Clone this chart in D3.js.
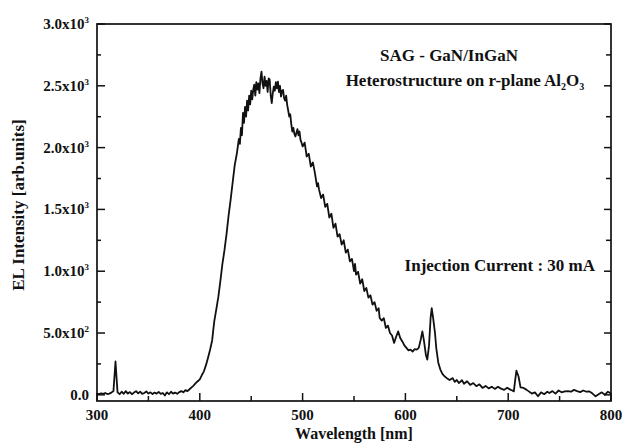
<!DOCTYPE html>
<html>
<head>
<meta charset="utf-8">
<script src="https://cdn.jsdelivr.net/npm/d3@7/dist/d3.min.js"></script>
<style>
  body { margin: 0; background: #fff; }
  svg text { font-family: "Liberation Serif", "Times New Roman", serif; font-weight: bold; fill: #111; }
</style>
</head>
<body>
<div id="chart"></div>
<script>
// spectrum: [wavelength nm, EL intensity]
const wavelength = [300,302,304,306,308,310,312,314,316,317,318,319,320,322,324,326,328,330,332,334,336,338,340,342,344,346,348,350,352,354,356,358,360,362,364,366,368,370,372,374,376,378,380,382,384,386,388,390,392,394,396,398,400,402,404,406,408,410,412,414,416,418,420,422,424,426,428,430,432,434,436,437,438,439,440,441,442,443,444,445,446,447,448,449,450,451,452,453,454,455,456,457,458,459,460,461,462,463,464,465,466,467,468,469,470,471,472,473,474,475,476,477,478,479,480,481,482,483,484,485,486,487,488,489,490,491,492,493,494,495,496,497,498,499,500,502,504,506,508,510,512,513,514,515,516,518,520,522,524,526,528,530,532,534,536,538,540,542,544,546,548,550,551,552,554,556,558,560,562,564,566,568,570,572,574,575,577,579,581,583,585,587,589,591,593,595,597,599,601,603,605,607,609,611,613,615,616.5,618,620,621.3,623,624.5,625.6,627,628.8,630,632,634,636,638,640,643,646,648,650,652,655,657,660,663,666,669,672,675,678,681,684,687,690,693,696,699,702,704,705.5,706.5,708,710,712,715,718,720,723,726,729,732,735,738,740,743,746,749,752,755,758,761,764,767,770,773,776,779,782,785,788,791,794,797,800];
const intensity = [10,5,12,8,15,6,10,18,30,150,270,140,20,5,25,8,30,10,22,5,18,30,12,25,8,15,28,10,20,6,18,10,24,8,15,-5,20,5,25,10,18,8,22,30,20,38,30,45,60,75,95,110,125,160,190,240,300,365,440,590,690,790,920,1060,1170,1300,1450,1580,1720,1860,1950,2010,2070,2030,2160,2100,2280,2200,2330,2250,2380,2300,2420,2350,2460,2390,2470,2510,2420,2530,2470,2520,2440,2560,2615,2520,2480,2575,2500,2540,2450,2560,2548,2420,2360,2440,2494,2460,2530,2480,2534,2450,2500,2413,2460,2467,2400,2380,2420,2346,2300,2251,2270,2190,2130,2160,2110,2090,2120,2150,2100,2130,2060,2040,2009,2040,1928,1950,1847,1880,1794,1740,1686,1713,1660,1592,1620,1520,1545,1433,1465,1350,1385,1280,1300,1215,1250,1150,1175,1080,1100,1000,1060,972,995,900,935,840,865,786,805,730,750,680,700,621,600,620,541,560,500,480,420,470,513,460,432,400,380,360,365,350,370,365,380,450,513,440,320,285,400,620,702,620,500,380,260,204,170,150,137,120,135,105,120,95,118,90,110,80,95,70,85,56,72,52,66,48,65,50,40,58,42,35,28,100,195,150,60,56,40,28,10,20,-12,20,5,25,15,30,10,35,20,28,30,25,40,30,22,35,25,28,10,-12,5,20,0,25,10,20,8];

const xTicks = [300, 400, 500, 600, 700, 800];
const yTicks = [0, 500, 1000, 1500, 2000, 2500, 3000];

const annotation1 = "SAG - GaN/InGaN";
const annotation3 = "Injection Current : 30 mA";

const W = 623, H = 443;
const margin = { top: 24, right: 12, bottom: 42, left: 97 };

const svg = d3.select("#chart").append("svg")
  .attr("width", W).attr("height", H);

const x = d3.scaleLinear().domain([300, 800]).range([margin.left, W - margin.right]);
const y = d3.scaleLinear().domain([-50, 3000]).range([H - margin.bottom, margin.top]);

const data = wavelength.map((w, i) => ({ w: w, v: intensity[i] }));

// minor ticks
const xMinor = d3.range(350, 800, 100);
const yMinor = d3.range(250, 3000, 500);

// frame
svg.append("rect")
  .attr("x", x(300)).attr("y", y(3000))
  .attr("width", x(800) - x(300)).attr("height", y(-50) - y(3000))
  .attr("fill", "none").attr("stroke", "#111").attr("stroke-width", 1.7);

const ticks = svg.append("g").attr("stroke", "#111").attr("stroke-width", 1.5);

// bottom ticks (inward)
ticks.selectAll(".xmaj").data(xTicks).join("line")
  .attr("x1", d => x(d)).attr("x2", d => x(d))
  .attr("y1", y(-50)).attr("y2", y(-50) - 8);
ticks.selectAll(".xmin").data(xMinor).join("line")
  .attr("x1", d => x(d)).attr("x2", d => x(d))
  .attr("y1", y(-50)).attr("y2", y(-50) - 5);

// left ticks
ticks.selectAll(".ymajL").data(yTicks).join("line")
  .attr("x1", x(300)).attr("x2", x(300) + 8)
  .attr("y1", d => y(d)).attr("y2", d => y(d));
ticks.selectAll(".yminL").data(yMinor).join("line")
  .attr("x1", x(300)).attr("x2", x(300) + 4)
  .attr("y1", d => y(d)).attr("y2", d => y(d));

// right ticks
ticks.selectAll(".ymajR").data(yTicks).join("line")
  .attr("x1", x(800)).attr("x2", x(800) - 7)
  .attr("y1", d => y(d)).attr("y2", d => y(d));
ticks.selectAll(".yminR").data(yMinor).join("line")
  .attr("x1", x(800)).attr("x2", x(800) - 5)
  .attr("y1", d => y(d)).attr("y2", d => y(d));

// x tick labels
svg.selectAll(".xl").data(xTicks).join("text")
  .attr("x", d => x(d)).attr("y", 420)
  .attr("text-anchor", "middle")
  .style("font-size", "15px")
  .text(d => d);

// y tick labels like 2.5x10^3
const yl = svg.selectAll(".yl").data(yTicks).join("text")
  .attr("x", x(300) - 8).attr("y", d => y(d) + 5)
  .attr("text-anchor", "end")
  .style("font-size", "15px");
yl.each(function (d) {
  const t = d3.select(this);
  if (d === 0) { t.text("0.0"); return; }
  const e = Math.floor(Math.log10(d));
  t.append("tspan").text((d / Math.pow(10, e)).toFixed(1) + "x10");
  t.append("tspan").attr("dy", -6).style("font-size", "9px").text(e);
});

// axis titles
svg.append("text")
  .attr("x", (x(300) + x(800)) / 2).attr("y", 439)
  .attr("text-anchor", "middle")
  .style("font-size", "16px")
  .text("Wavelength [nm]");

svg.append("text")
  .attr("transform", "translate(24,205) rotate(-90)")
  .attr("text-anchor", "middle")
  .style("font-size", "17px")
  .text("EL Intensity [arb.units]");

// annotations
svg.append("text")
  .attr("x", 449).attr("y", 61)
  .attr("text-anchor", "middle")
  .style("font-size", "17px")
  .text(annotation1);

const a2 = svg.append("text")
  .attr("x", 465).attr("y", 86)
  .attr("text-anchor", "middle")
  .style("font-size", "17px");
a2.append("tspan").text("Heterostructure on r-plane Al");
a2.append("tspan").attr("dy", 4).style("font-size", "10px").text("2");
a2.append("tspan").attr("dy", -4).text("O");
a2.append("tspan").attr("dy", 4).style("font-size", "10px").text("3");

svg.append("text")
  .attr("x", 595).attr("y", 271)
  .attr("text-anchor", "end")
  .style("font-size", "17px")
  .text(annotation3);

// spectrum
const line = d3.line().x(d => x(d.w)).y(d => y(d.v));
svg.append("path")
  .datum(data)
  .attr("d", line)
  .attr("fill", "none")
  .attr("stroke", "#111")
  .attr("stroke-width", 1.8)
  .attr("stroke-linejoin", "round");
</script>
</body>
</html>
